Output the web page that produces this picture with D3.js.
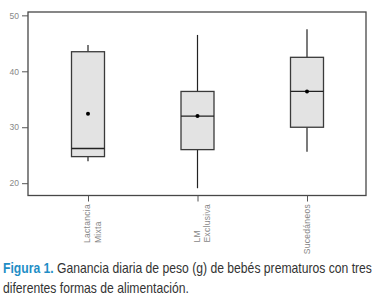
<!DOCTYPE html>
<html>
<head>
<meta charset="utf-8">
<script src="https://cdn.jsdelivr.net/npm/d3@7"></script>
<style>
  body { margin: 0; background: #fff; }
  svg { display: block; }
</style>
</head>
<body>
<div id="chart"></div>
<script>
// categories (label lines)
const categories = [['Lactancia', 'Mixta'], ['LM', 'Exclusiva'], ['Sucedáneos']];
// box stats
const whiskerLow = [23.9, 19.1, 25.6];
const q1 = [24.75, 26.0, 30.0];
const median = [26.2, 32.0, 36.4];
const q3 = [43.5, 36.4, 42.5];
const whiskerHigh = [44.7, 46.5, 47.5];
const means = [32.4, 32.0, 36.4];
const yTicks = [20, 30, 40, 50];

const W = 375, H = 304;
const plot = { left: 28, top: 12, right: 366, bottom: 195.5 };

const svg = d3.select('#chart').append('svg')
    .attr('width', W)
    .attr('height', H);

const y = d3.scaleLinear()
    .domain([17.8, 50.6])
    .range([plot.bottom, plot.top]);

const x = d3.scalePoint()
    .domain(d3.range(categories.length))
    .range([88, 307]);

const boxW = 33;

// Frame
svg.append('rect')
    .attr('x', plot.left)
    .attr('y', plot.top)
    .attr('width', plot.right - plot.left)
    .attr('height', plot.bottom - plot.top)
    .attr('fill', 'none')
    .attr('stroke', '#474747')
    .attr('stroke-width', 1.3);

// Y axis
const yAxis = svg.append('g')
    .attr('transform', `translate(${plot.left},0)`)
    .call(d3.axisLeft(y).tickValues(yTicks).tickSize(6).tickPadding(3));
yAxis.select('.domain').remove();
yAxis.selectAll('line').attr('stroke', '#555');
yAxis.selectAll('text')
    .attr('fill', '#888')
    .attr('font-family', 'Arial, "Liberation Sans", sans-serif')
    .attr('font-size', 8.5);

// X axis ticks
const xAxis = svg.append('g')
    .attr('transform', `translate(0,${plot.bottom})`)
    .call(d3.axisBottom(x).tickSize(6).tickFormat(''));
xAxis.select('.domain').remove();
xAxis.selectAll('line').attr('stroke', '#555');

// X labels (rotated)
categories.forEach((lines, i) => {
    const g = svg.append('g');
    const texts = lines.map((t, j) => g.append('text')
        .attr('fill', '#888')
        .attr('font-family', 'Arial, "Liberation Sans", sans-serif')
        .attr('font-size', 8.5)
        .attr('letter-spacing', 0.3)
        .attr('text-anchor', 'start')
        .text(t));
    const maxLen = d3.max(texts, t => t.node().getComputedTextLength());
    const startY = 204 + maxLen;
    texts.forEach((t, j) => {
        const cx = x(i) + (lines.length > 1 ? -1 + j * 10.5 : 0) + 3;
        t.attr('transform', `translate(${cx},${startY}) rotate(-90)`);
    });
});

// Boxes
const boxes = svg.append('g').selectAll('g.box')
    .data(d3.range(categories.length))
    .enter().append('g')
    .attr('class', 'box');

boxes.append('line')
    .attr('x1', i => x(i)).attr('x2', i => x(i))
    .attr('y1', i => y(whiskerHigh[i])).attr('y2', i => y(q3[i]))
    .attr('stroke', '#222').attr('stroke-width', 1.2);

boxes.append('line')
    .attr('x1', i => x(i)).attr('x2', i => x(i))
    .attr('y1', i => y(q1[i])).attr('y2', i => y(whiskerLow[i]))
    .attr('stroke', '#222').attr('stroke-width', 1.2);

boxes.append('rect')
    .attr('x', i => x(i) - boxW / 2)
    .attr('width', boxW)
    .attr('y', i => y(q3[i]))
    .attr('height', i => y(q1[i]) - y(q3[i]))
    .attr('fill', '#e3e3e3')
    .attr('stroke', '#3a3a3a')
    .attr('stroke-width', 1.3);

boxes.append('line')
    .attr('x1', i => x(i) - boxW / 2).attr('x2', i => x(i) + boxW / 2)
    .attr('y1', i => y(median[i])).attr('y2', i => y(median[i]))
    .attr('stroke', '#222').attr('stroke-width', 1.3);

boxes.append('circle')
    .attr('cx', i => x(i))
    .attr('cy', i => y(means[i]))
    .attr('r', 2)
    .attr('fill', '#000');

// Caption
const capFont = '"Liberation Sans Narrow", "Arial Narrow", "Liberation Sans", Arial, sans-serif';
const cap1 = svg.append('text')
    .attr('font-family', capFont)
    .attr('font-size', 14)
    .attr('fill', '#333');
cap1.append('tspan').attr('fill', '#1f8ec6').attr('font-weight', 'bold').text('Figura 1.');
cap1.append('tspan').text(' Ganancia diaria de peso (g) de bebés prematuros con tres');

const cap2 = svg.append('text')
    .attr('font-family', capFont)
    .attr('font-size', 14)
    .attr('fill', '#333')
    .text('diferentes formas de alimentación.');

const sx = 369 / cap1.node().getComputedTextLength();
cap1.attr('transform', `translate(3,273) scale(${sx},1)`);
cap2.attr('transform', `translate(3,293) scale(${sx},1)`);
</script>
</body>
</html>
